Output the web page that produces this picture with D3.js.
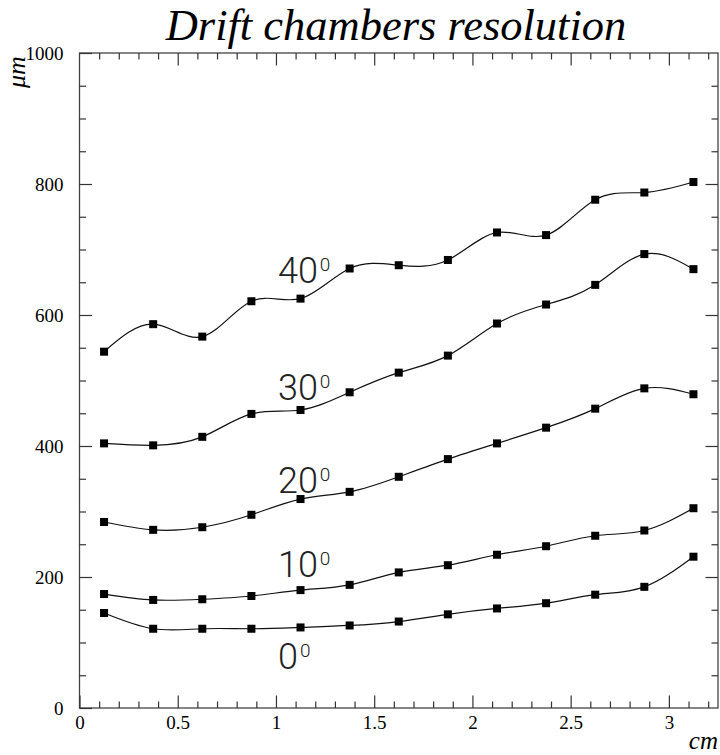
<!DOCTYPE html>
<html>
<head>
<meta charset="utf-8">
<script src="https://cdn.jsdelivr.net/npm/d3@7"></script>
<style>
  body { margin: 0; background: #fff; }
  svg { display: block; }
  .tick-label { font-family: 'Liberation Serif', 'Times New Roman', serif; font-size: 19px; fill: #000; }
  .angle { font-family: Roboto, 'Open Sans', sans-serif; font-weight: 300; fill: #222; }
</style>
</head>
<body>
<svg id="chart" width="720" height="755"></svg>
<script>
// distance across the cell (cm)
const positions = [0.125, 0.375, 0.625, 0.875, 1.125, 1.375, 1.625, 1.875, 2.125, 2.375, 2.625, 2.875, 3.125];

// resolution in micrometres, one list per track angle
const res0  = [145, 121, 121, 121, 123, 126, 132, 143, 152, 160, 173, 185, 231];
const res10 = [174, 165, 166, 171, 180, 188, 207, 218, 234, 247, 263, 271, 305];
const res20 = [284, 272, 276, 295, 319, 330, 353, 380, 404, 428, 457, 488, 479];
const res30 = [404, 401, 414, 449, 455, 482, 512, 538, 587, 616, 646, 693, 670];
const res40 = [544, 586, 567, 621, 625, 671, 676, 684, 726, 722, 776, 787, 803];

const angleNames = ['0', '10', '20', '30', '40'];
// where the angle labels sit, in data units (left edge, baseline)
const labelX = [1.01, 1.01, 1.01, 1.01, 1.01];
const labelY = [60, 200, 329, 470, 649];

const xMajor = [0, 0.5, 1, 1.5, 2, 2.5, 3];
const yMajor = [0, 200, 400, 600, 800, 1000];

const series = [res0, res10, res20, res30, res40];

const svg = d3.select('#chart');
const margin = { left: 79.5, right: 2, top: 53, bottom: 47 };
const W = 720, H = 755;

const x = d3.scaleLinear().domain([0, 3.25]).range([margin.left, W - margin.right]);
const y = d3.scaleLinear().domain([0, 1000]).range([H - margin.bottom, margin.top]);

const xMinor = d3.range(0, 3.25, 0.1).filter(v => Math.abs(v * 2 - Math.round(v * 2)) > 1e-6);
const yMinor = d3.range(0, 1000, 50).filter(v => v % 200 !== 0);

// frame
svg.append('rect')
  .attr('x', x(0)).attr('y', y(1000))
  .attr('width', x(3.25) - x(0)).attr('height', y(0) - y(1000))
  .attr('fill', 'none').attr('stroke', '#444').attr('stroke-width', 1.3);

function styleAxis(g) {
  g.select('.domain').remove();
  g.selectAll('line').attr('stroke', '#333').attr('stroke-width', 1.2);
}

// bottom axis
svg.append('g').attr('transform', 'translate(0,' + y(0) + ')')
  .call(d3.axisBottom(x).tickValues(xMinor).tickSize(-6.5).tickFormat(''))
  .call(styleAxis);
const bottom = svg.append('g').attr('transform', 'translate(0,' + y(0) + ')')
  .call(d3.axisBottom(x).tickValues(xMajor).tickSize(-12.5).tickFormat(d => String(d)))
  .call(styleAxis);
bottom.selectAll('text').attr('class', 'tick-label').attr('y', 21).attr('dy', null)
  .attr('font-family', null).attr('font-size', null);

// top axis
svg.append('g').attr('transform', 'translate(0,' + y(1000) + ')')
  .call(d3.axisTop(x).tickValues(xMinor).tickSize(-6.5).tickFormat(''))
  .call(styleAxis);
svg.append('g').attr('transform', 'translate(0,' + y(1000) + ')')
  .call(d3.axisTop(x).tickValues(xMajor.filter(v => v > 0)).tickSize(-12.5).tickFormat(''))
  .call(styleAxis);

// left axis
svg.append('g').attr('transform', 'translate(' + x(0) + ',0)')
  .call(d3.axisLeft(y).tickValues(yMinor).tickSize(-6.5).tickFormat(''))
  .call(styleAxis);
const left = svg.append('g').attr('transform', 'translate(' + x(0) + ',0)')
  .call(d3.axisLeft(y).tickValues(yMajor).tickSize(-12.5).tickFormat(d => String(d)))
  .call(styleAxis);
left.selectAll('text').attr('class', 'tick-label').attr('x', -16).attr('dy', '0.34em')
  .attr('font-family', null).attr('font-size', null);

// right axis
svg.append('g').attr('transform', 'translate(' + x(3.25) + ',0)')
  .call(d3.axisRight(y).tickValues(yMinor).tickSize(-6.5).tickFormat(''))
  .call(styleAxis);
svg.append('g').attr('transform', 'translate(' + x(3.25) + ',0)')
  .call(d3.axisRight(y).tickValues(yMajor.filter(v => v > 0 && v < 1000)).tickSize(-12.5).tickFormat(''))
  .call(styleAxis);

// curves + markers
const line = d3.line()
  .x((d, i) => x(positions[i]))
  .y(d => y(d))
  .curve(d3.curveNatural);

series.forEach(vals => {
  svg.append('path')
    .attr('d', line(vals))
    .attr('fill', 'none')
    .attr('stroke', '#111')
    .attr('stroke-width', 1.2);

  svg.selectAll(null)
    .data(vals)
    .enter()
    .append('rect')
    .attr('x', (d, i) => x(positions[i]) - 4)
    .attr('y', d => y(d) - 4)
    .attr('width', 8)
    .attr('height', 8)
    .attr('fill', '#000');
});

// angle labels
angleNames.forEach((name, i) => {
  const t = svg.append('text')
    .attr('class', 'angle')
    .attr('x', x(labelX[i]))
    .attr('y', y(labelY[i]))
    .style('font-size', '36px');
  t.append('tspan').text(name);
  t.append('tspan').attr('dx', 2).attr('dy', -12).style('font-size', '19px').text('0');
});

// title
svg.append('text')
  .attr('x', 396)
  .attr('y', 40)
  .attr('text-anchor', 'middle')
  .style('font-family', "'Liberation Serif', 'Times New Roman', serif")
  .style('font-style', 'italic')
  .style('font-size', '44.5px')
  .text('Drift chambers resolution');

// axis units
svg.append('text')
  .attr('transform', 'translate(25,88) rotate(-90)')
  .style('font-family', "'Liberation Serif', 'Times New Roman', serif")
  .style('font-style', 'italic')
  .style('font-size', '26px')
  .text('\u03bcm');

svg.append('text')
  .attr('x', 718)
  .attr('y', 749)
  .attr('text-anchor', 'end')
  .style('font-family', "'Liberation Serif', 'Times New Roman', serif")
  .style('font-style', 'italic')
  .style('font-size', '25px')
  .text('cm');
</script>
</body>
</html>
